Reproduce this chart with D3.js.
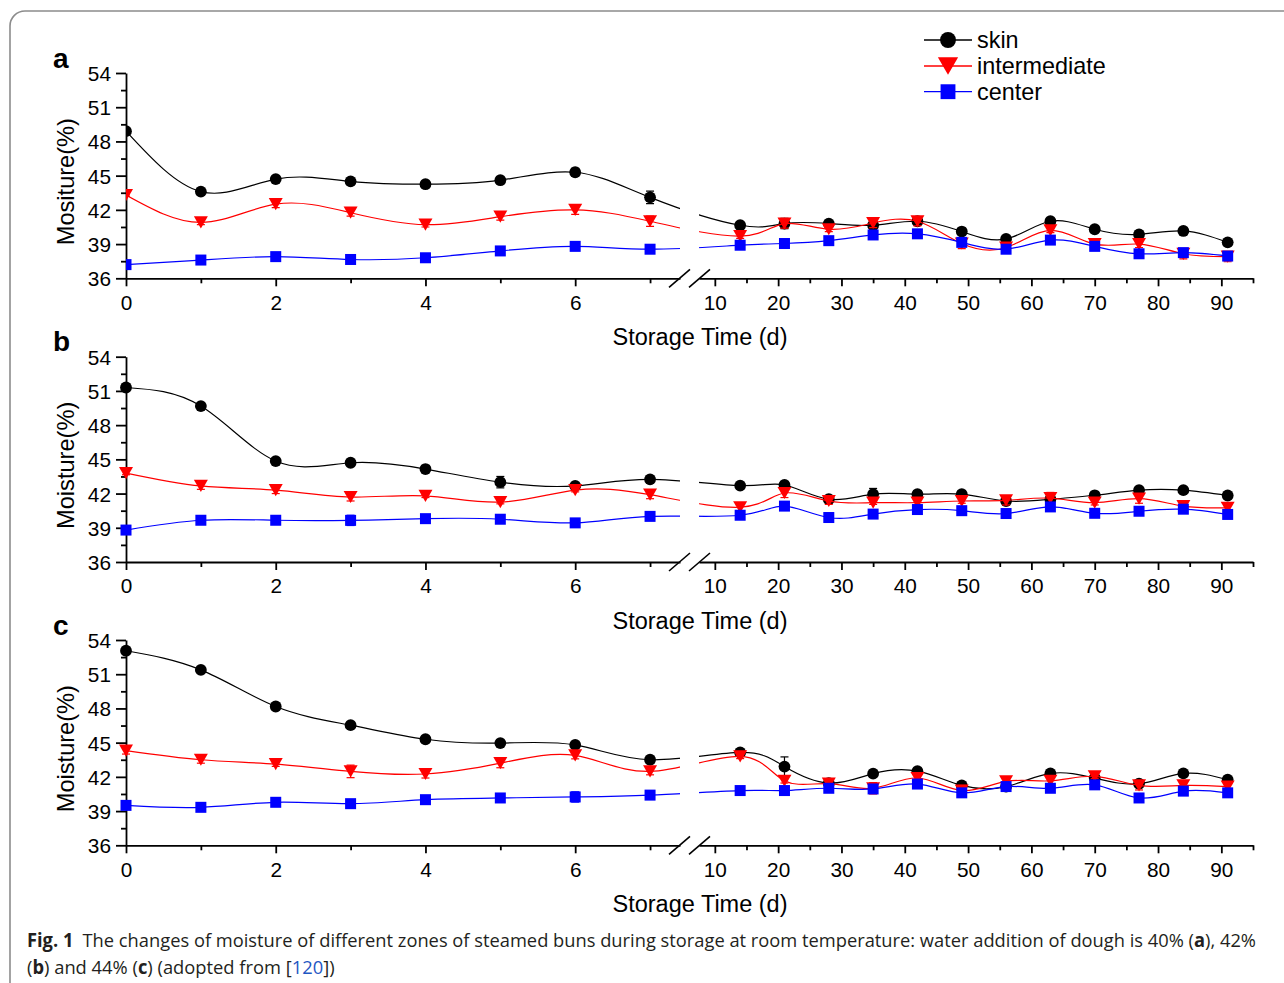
<!DOCTYPE html>
<html>
<head>
<meta charset="utf-8">
<script src="https://cdn.jsdelivr.net/npm/d3@7"></script>
<style>
  html, body { margin: 0; padding: 0; background: #fff; }
  svg { display: block; font-family: "Liberation Sans", Arial, sans-serif; }
</style>
</head>
<body>
<svg id="chart" width="1284" height="983"></svg>
<script>
// ---------------- data ----------------
const leftDays = [0, 1, 2, 3, 4, 5, 6, 7];
const rightDays = [14, 21, 28, 35, 42, 49, 56, 63, 70, 77, 84, 91];
const days = leftDays.concat(rightDays);

const seriesNames = ["skin", "intermediate", "center"];
const yTicks = [36, 39, 42, 45, 48, 51, 54];
const yMinorTicks = [37.5, 40.5, 43.5, 46.5, 49.5, 52.5];
const xLeftTicks = [0, 2, 4, 6];
const xLeftMinor = [1, 3, 5, 7];
const xRightTicks = [10, 20, 30, 40, 50, 60, 70, 80, 90];
const xRightMinor = [15, 25, 35, 45, 55, 65, 75, 85, 95];

// panel a (40% water)
const skinA   = [48.9, 43.6, 44.7, 44.5, 44.25, 44.6, 45.3, 43.1, 40.65, 40.8, 40.8, 40.65, 41.0, 40.1, 39.45, 41.0, 40.3, 39.85, 40.15, 39.15];
const interA  = [43.3, 40.9, 42.5, 41.75, 40.7, 41.4, 42.0, 41.0, 39.7, 40.8, 40.3, 40.85, 41.0, 39.05, 38.7, 40.2, 39.0, 39.0, 38.15, 37.9];
const centerA = [37.2, 37.6, 37.9, 37.65, 37.8, 38.4, 38.8, 38.55, 38.9, 39.05, 39.3, 39.8, 39.9, 39.15, 38.55, 39.35, 38.8, 38.15, 38.25, 37.95];
const errSkinA   = [0.1, 0.1, 0.1, 0.1, 0.1, 0.15, 0.35, 0.55, 0.15, 0.45, 0.15, 0.2, 0.15, 0.15, 0.15, 0.15, 0.15, 0.15, 0.3, 0.15];
const errInterA  = [0.1, 0.2, 0.3, 0.3, 0.2, 0.3, 0.4, 0.45, 0.2, 0.4, 0.2, 0.4, 0.4, 0.45, 0.4, 0.2, 0.4, 0.3, 0.45, 0.45];
const errCenterA = [0.1, 0.1, 0.1, 0.1, 0.1, 0.1, 0.1, 0.1, 0.1, 0.1, 0.1, 0.1, 0.1, 0.1, 0.1, 0.1, 0.1, 0.1, 0.1, 0.1];

// panel b (42% water)
const skinB   = [51.3, 49.67, 44.85, 44.7, 44.15, 43.0, 42.67, 43.25, 42.7, 42.76, 41.5, 41.95, 41.95, 41.95, 41.35, 41.5, 41.85, 42.3, 42.3, 41.83];
const interB  = [43.8, 42.67, 42.3, 41.7, 41.8, 41.25, 42.3, 41.9, 40.8, 42.05, 41.35, 41.2, 41.2, 41.35, 41.4, 41.6, 41.2, 41.55, 40.9, 40.75];
const centerB = [38.8, 39.66, 39.66, 39.65, 39.8, 39.75, 39.43, 40.0, 40.1, 40.9, 39.9, 40.2, 40.6, 40.5, 40.25, 40.83, 40.27, 40.45, 40.63, 40.17];
const errSkinB   = [0.15, 0.1, 0.1, 0.1, 0.1, 0.5, 0.3, 0.15, 0.15, 0.2, 0.3, 0.5, 0.3, 0.3, 0.15, 0.3, 0.15, 0.15, 0.15, 0.15];
const errInterB  = [0.15, 0.3, 0.3, 0.35, 0.15, 0.15, 0.15, 0.35, 0.4, 0.4, 0.3, 0.15, 0.2, 0.2, 0.4, 0.5, 0.2, 0.4, 0.4, 0.2];
const errCenterB = [0.15, 0.1, 0.1, 0.45, 0.1, 0.1, 0.1, 0.1, 0.1, 0.1, 0.1, 0.1, 0.1, 0.1, 0.1, 0.1, 0.1, 0.1, 0.1, 0.1];

// panel c (44% water)
const skinC   = [53.06, 51.38, 48.17, 46.53, 45.3, 44.96, 44.8, 43.5, 44.14, 42.9, 41.45, 42.28, 42.5, 41.25, 41.15, 42.3, 41.9, 41.4, 42.3, 41.75];
const interC  = [44.3, 43.5, 43.12, 42.48, 42.25, 43.2, 43.88, 42.48, 43.8, 41.66, 41.4, 41.0, 41.9, 40.8, 41.6, 41.65, 42.05, 41.25, 41.25, 41.15];
const centerC = [39.5, 39.33, 39.77, 39.65, 40.0, 40.15, 40.24, 40.4, 40.8, 40.8, 41.0, 40.94, 41.37, 40.6, 41.15, 41.0, 41.3, 40.15, 40.75, 40.6];
const errSkinC   = [0.15, 0.1, 0.1, 0.2, 0.1, 0.1, 0.3, 0.1, 0.15, 0.85, 0.15, 0.15, 0.15, 0.15, 0.15, 0.15, 0.3, 0.15, 0.15, 0.15];
const errInterC  = [0.3, 0.3, 0.2, 0.55, 0.35, 0.4, 0.3, 0.3, 0.2, 0.2, 0.4, 0.5, 0.3, 0.45, 0.4, 0.4, 0.2, 0.4, 0.3, 0.3];
const errCenterC = [0.35, 0.1, 0.1, 0.1, 0.1, 0.1, 0.45, 0.1, 0.1, 0.1, 0.1, 0.1, 0.1, 0.1, 0.1, 0.1, 0.1, 0.1, 0.1, 0.1];

// ---------------- layout / style ----------------
const colors = ["#000000", "#ff0000", "#0000ff"];
const markerTypes = ["circle", "triangle", "square"];
const panels = [
  { letter: "a", ylabel: "Mositure(%)", top: 73,    series: [skinA, interA, centerA], errs: [errSkinA, errInterA, errCenterA], clipMarkers: true },
  { letter: "b", ylabel: "Moisture(%)", top: 356.7, series: [skinB, interB, centerB], errs: [errSkinB, errInterB, errCenterB], clipMarkers: false },
  { letter: "c", ylabel: "Moisture(%)", top: 640,   series: [skinC, interC, centerC], errs: [errSkinC, errInterC, errCenterC], clipMarkers: false }
];
const plotH = 205.3;
const leftX0 = 126, leftX1 = 680, rightX0 = 699, rightX1 = 1253;

const svg = d3.select("#chart");

// rounded frame
svg.append("rect")
  .attr("x", 10).attr("y", 11).attr("width", 1320).attr("height", 1040)
  .attr("rx", 15).attr("ry", 15)
  .attr("fill", "none").attr("stroke", "#8c8c8c").attr("stroke-width", 1.6);

const xLeft = d3.scaleLinear().domain([0, 7.4]).range([leftX0, leftX1]);
const xRight = d3.scaleLinear().domain([7.5, 95]).range([rightX0, rightX1]);
const sx = d => d <= 7.4 ? xLeft(d) : xRight(d);

function drawMarker(g, type, cx, cy, scale, color) {
  if (type === "circle") {
    g.append("circle").attr("cx", cx).attr("cy", cy).attr("r", 5.9 * scale).attr("fill", color);
  } else if (type === "triangle") {
    const w = 14 * scale, h = 12.2 * scale;
    g.append("path")
      .attr("d", `M${cx - w / 2},${cy - h / 2}L${cx + w / 2},${cy - h / 2}L${cx},${cy + h / 2}Z`)
      .attr("fill", color);
  } else {
    const s = 11 * scale;
    g.append("rect").attr("x", cx - s / 2).attr("y", cy - s / 2).attr("width", s).attr("height", s).attr("fill", color);
  }
}

panels.forEach((p, pi) => {
  const bottom = p.top + plotH;
  const y = d3.scaleLinear().domain([36, 54]).range([bottom, p.top]);
  const g = svg.append("g");

  // clip path excluding the break gap
  const clipId = "clip" + pi;
  const cp = svg.append("clipPath").attr("id", clipId);
  cp.append("rect").attr("x", leftX0).attr("y", p.top - 20).attr("width", leftX1 - leftX0).attr("height", plotH + 20);
  cp.append("rect").attr("x", rightX0).attr("y", p.top - 20).attr("width", rightX1 - rightX0 + 10).attr("height", plotH + 20);

  // y axis
  const ya = g.append("g").attr("transform", `translate(${leftX0},0)`)
    .call(d3.axisLeft(y).tickValues(yTicks).tickSize(10).tickPadding(5).tickSizeOuter(0));
  const yMin = g.append("g").attr("transform", `translate(${leftX0},0)`)
    .call(d3.axisLeft(y).tickValues(yMinorTicks).tickSize(5).tickFormat("").tickSizeOuter(0));
  yMin.select(".domain").remove();

  // x axes
  const xa1 = g.append("g").attr("transform", `translate(0,${bottom})`)
    .call(d3.axisBottom(xLeft).tickValues(xLeftTicks).tickSize(8).tickPadding(4).tickSizeOuter(0));
  const xm1 = g.append("g").attr("transform", `translate(0,${bottom})`)
    .call(d3.axisBottom(xLeft).tickValues(xLeftMinor).tickSize(5).tickFormat("").tickSizeOuter(0));
  xm1.select(".domain").remove();
  const xa2 = g.append("g").attr("transform", `translate(0,${bottom})`)
    .call(d3.axisBottom(xRight).tickValues(xRightTicks).tickSize(8).tickPadding(4).tickSizeOuter(0));
  const xm2 = g.append("g").attr("transform", `translate(0,${bottom})`)
    .call(d3.axisBottom(xRight).tickValues(xRightMinor).tickSize(5).tickFormat("").tickSizeOuter(0));
  xm2.select(".domain").remove();

  g.selectAll(".domain, .tick line").attr("stroke", "#000").attr("stroke-width", 1.8);
  g.selectAll(".tick text").attr("font-size", 20.8).attr("font-family", "'Liberation Sans', Arial, sans-serif").attr("fill", "#000");
  ya.selectAll(".tick text").attr("dy", "0.36em");
  [xa1, xa2].forEach(a => a.selectAll(".tick text").attr("dy", "0.93em"));

  // break marks
  const bk = g.append("g").attr("stroke", "#000").attr("stroke-width", 1.6);
  bk.append("line").attr("x1", 669).attr("y1", bottom + 9).attr("x2", 690).attr("y2", bottom - 9);
  bk.append("line").attr("x1", 689).attr("y1", bottom + 9).attr("x2", 710).attr("y2", bottom - 9);

  // y label
  g.append("text")
    .attr("transform", `translate(66,${p.top + plotH / 2 + 6}) rotate(-90)`)
    .attr("text-anchor", "middle").attr("dominant-baseline", "central")
    .attr("font-size", 23.6).attr("fill", "#000").text(p.ylabel);

  // x label
  g.append("text").attr("x", 700).attr("y", bottom + 67)
    .attr("text-anchor", "middle").attr("font-size", 23.5).attr("fill", "#000")
    .text("Storage Time (d)");

  // panel letter
  g.append("text").attr("x", 53).attr("y", [68, 351, 635][pi])
    .attr("font-size", 28).attr("font-weight", "bold").attr("fill", "#000").text(p.letter);

  // series
  const line = d3.line().x(d => sx(d.d)).y(d => y(d.v)).curve(d3.curveNatural);
  p.series.forEach((vals, si) => {
    const pts = days.map((d, i) => ({ d: d, v: vals[i], e: p.errs[si][i] }));
    const sg = g.append("g");
    sg.append("path").datum(pts).attr("d", line)
      .attr("fill", "none").attr("stroke", colors[si]).attr("stroke-width", 1.2)
      .attr("clip-path", `url(#${clipId})`);
    const mg = sg.append("g");
    if (p.clipMarkers) mg.attr("clip-path", `url(#${clipId})`);
    pts.forEach(pt => {
      const cx = sx(pt.d);
      const y1 = y(pt.v + pt.e), y2 = y(pt.v - pt.e);
      mg.append("line").attr("x1", cx).attr("x2", cx).attr("y1", y1).attr("y2", y2)
        .attr("stroke", colors[si]).attr("stroke-width", 1.2);
      [y1, y2].forEach(yy => mg.append("line").attr("x1", cx - 4).attr("x2", cx + 4).attr("y1", yy).attr("y2", yy)
        .attr("stroke", colors[si]).attr("stroke-width", 1.2));
      drawMarker(mg, markerTypes[si], cx, y(pt.v), 1, colors[si]);
    });
  });
});

// legend
const legendYs = [40, 66, 91.7];
const lg = svg.append("g");
seriesNames.forEach((name, i) => {
  const ly = legendYs[i];
  lg.append("line").attr("x1", 924).attr("x2", 972).attr("y1", ly).attr("y2", ly)
    .attr("stroke", colors[i]).attr("stroke-width", 1.3);
  drawMarker(lg, markerTypes[i], 948, ly, i === 1 ? 1.45 : 1.35, colors[i]);
  lg.append("text").attr("x", 977).attr("y", ly + 8).attr("font-size", 23.4).attr("fill", "#000").text(name);
});

// caption (horizontally condensed to match the journal's narrow caption face)
const capFont = "'Liberation Sans Narrow', 'Open Sans', 'Noto Sans', sans-serif";
function caption(yPos, width, parts) {
  const t = svg.append("text").attr("x", 0).attr("y", 0).attr("font-size", 19)
    .attr("font-family", capFont).attr("fill", "#231f20");
  parts.forEach(pt => {
    const ts = t.append("tspan").text(pt.t);
    if (pt.b) ts.attr("font-weight", "bold");
    if (pt.c) ts.attr("fill", pt.c);
  });
  const w = t.node().getComputedTextLength();
  t.attr("transform", `translate(27,${yPos}) scale(${width / w},1)`);
}
caption(947, 1230, [
  { t: "Fig. 1", b: true },
  { t: "\u2002The changes of moisture of different zones of steamed buns during storage at room temperature: water addition of dough is 40% (" },
  { t: "a", b: true },
  { t: "), 42%" }
]);
caption(974, 308, [
  { t: "(" }, { t: "b", b: true }, { t: ") and 44% (" }, { t: "c", b: true },
  { t: ") (adopted from [" }, { t: "120", c: "#1f57c3" }, { t: "])" }
]);
</script>
</body>
</html>
